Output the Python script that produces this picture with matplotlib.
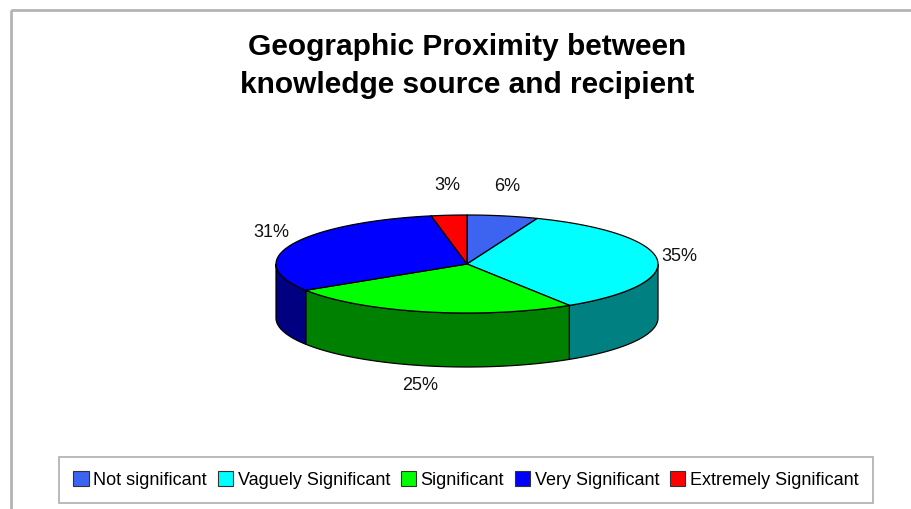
import numpy as np
import matplotlib.pyplot as plt
from matplotlib.patches import Polygon, Rectangle
from matplotlib.font_manager import fontManager

categories = ["Not significant", "Vaguely Significant", "Significant",
              "Very Significant", "Extremely Significant"]
shares = [6, 35, 25, 31, 3]
top_colors = ["#3c64f0", "#00ffff", "#00ff00", "#0000ff", "#ff0000"]
side_colors = ["#1e3278", "#008080", "#008000", "#000080", "#800000"]
title = "Geographic Proximity between\nknowledge source and recipient"

names = {f.name for f in fontManager.ttflist}
narrow = "Liberation Sans Narrow" if "Liberation Sans Narrow" in names else "Liberation Sans"

W, H = 911, 509
fig = plt.figure(figsize=(W / 100, H / 100), dpi=100)
ax = fig.add_axes([0, 0, 1, 1])
ax.set_xlim(0, W)
ax.set_ylim(H, 0)
ax.axis("off")

# chart frame
ax.add_patch(Rectangle((11, 10), 920, 520, fill=False, ec="#b4b4b4", lw=2))

ax.text(467, 66, title, ha="center", va="center", fontsize=21.5,
        fontweight="bold", family="Liberation Sans", linespacing=1.45)

# 3-D pie geometry (pixel space)
cx, cy, rx, ry, depth = 467, 264, 191, 49, 54


def ring(t, dy=0.0):
    r = np.radians(t)
    return np.column_stack([cx + rx * np.cos(r), cy - ry * np.sin(r) + dy])


fracs = np.array(shares, float) / sum(shares)
ends = 90 - 360 * np.cumsum(fracs)
starts = np.concatenate([[90], ends[:-1]])

# side walls (front half only)
for a0, a1, c in zip(starts, ends, side_colors):
    lo, hi = a1, a0
    for shift in (0, -360, 360):
        s, e = max(lo + shift, -180), min(hi + shift, 0)
        if e > s:
            t = np.linspace(s, e, 80)
            pts = np.vstack([ring(t), ring(t[::-1], depth)])
            ax.add_patch(Polygon(pts, closed=True, fc=c, ec="black", lw=0.9))

# top faces
for a0, a1, c in zip(starts, ends, top_colors):
    t = np.linspace(a0, a1, 120)
    pts = np.vstack([[cx, cy], ring(t)])
    ax.add_patch(Polygon(pts, closed=True, fc=c, ec="black", lw=0.9,
                         joinstyle="round"))

# percentage labels
for a0, a1, v in zip(starts, ends, shares):
    m = np.radians((a0 + a1) / 2)
    lx = cx + (rx + 22) * np.cos(m)
    if np.sin(m) >= 0:
        ly = cy - (ry + 30) * np.sin(m)
    else:
        ly = cy - (ry + 20) * np.sin(m) + depth
    ax.text(lx, ly, f"{v}%", ha="center", va="center", fontsize=13,
            family=narrow, color="#111111")

# legend
handles = [Rectangle((0, 0), 1, 1, fc=c, ec="#333333", lw=0.8) for c in top_colors]
leg = fig.legend(handles, categories, loc="center", ncol=5,
                 bbox_to_anchor=(466 / W, 1 - 480 / H), frameon=True,
                 fancybox=False, edgecolor="#999999", handlelength=0.85,
                 handleheight=0.85, handletextpad=0.25, columnspacing=0.6,
                 borderpad=0.8, prop={"family": narrow, "size": 13})
leg.get_frame().set_linewidth(1.2)

fig.savefig("out.png", dpi=100)
